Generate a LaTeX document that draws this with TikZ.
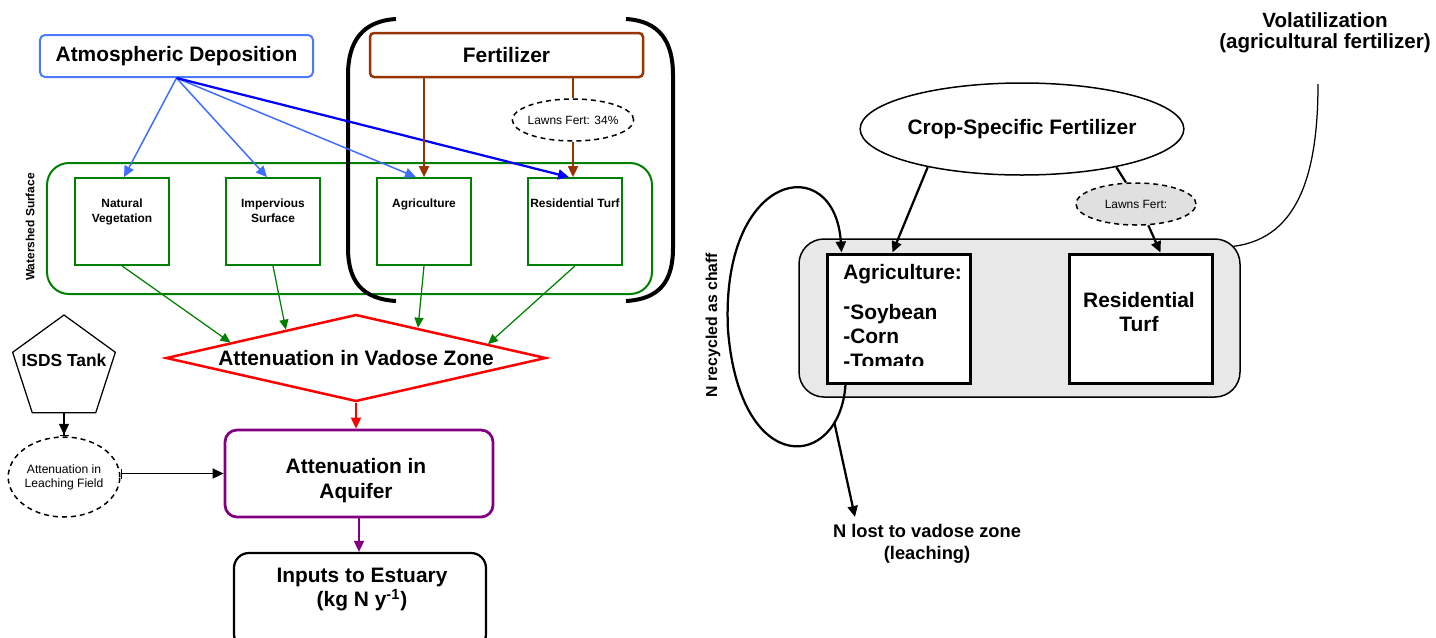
\documentclass[tikz,border=0pt]{standalone}
\usepackage{fontspec}
\setmainfont{Liberation Sans}
\usetikzlibrary{arrows.meta,shapes.geometric,calc}

\definecolor{atmblue}{RGB}{77,121,255}
\definecolor{atmline}{RGB}{64,110,255}
\definecolor{deepblue}{RGB}{0,0,255}
\definecolor{fertbrown}{RGB}{153,51,0}
\definecolor{landgreen}{RGB}{0,128,0}
\definecolor{vadosered}{RGB}{255,0,0}
\definecolor{aquipurple}{RGB}{128,0,128}
\definecolor{fieldgray}{RGB}{232,232,232}
\definecolor{lawngray}{RGB}{224,224,224}

\newcommand{\flowfont}{\fontsize{11.9}{14.2}\selectfont\bfseries}
\newcommand{\cellfont}{\fontsize{6.8}{8.5}\selectfont\bfseries}
\newcommand{\notefont}{\fontsize{6.8}{8}\selectfont}

\NewDocumentCommand{\landcell}{mmm}{%
\node[landbox] (#1) at (#2,221.5) {};%
\node[celltext] (#1txt) at (#2,198.5) {#3};%
}

\begin{document}
\begin{tikzpicture}[x=0.2mm,y=-0.2mm,>={Triangle[length=2.2mm,width=2mm]},
    flowtext/.style={font=\flowfont,align=center,inner sep=0pt},
    celltext/.style={font=\cellfont,align=center,inner sep=0pt,anchor=north},
    landbox/.style={draw=landgreen,line width=0.35mm,minimum width=18.8mm,minimum height=17.4mm,inner sep=0pt},
    atmflow/.style={->,draw=atmline,line width=0.3mm},
    fertflow/.style={draw=fertbrown,line width=0.35mm},
    landflow/.style={>={Triangle[length=2mm,width=1.8mm]},->,draw=landgreen,line width=0.25mm},
    blackflow/.style={->,line width=0.45mm},
    dashedoval/.style={ellipse,draw,dash pattern=on 1mm off 0.8mm,line width=0.3mm,inner sep=0pt}]
\useasboundingbox (0,0) rectangle (1436,637);
\clip (0,0) rectangle (1436,637);

% Sources.
\node[draw=atmblue,line width=0.4mm,rounded corners=1mm,minimum width=54.6mm,minimum height=8.4mm,flowtext] (atm) at (176.5,56) {Atmospheric Deposition};
\node[draw=fertbrown,line width=0.5mm,rounded corners=0.8mm,minimum width=54.6mm,minimum height=8.8mm,flowtext] (fert) at (506.5,55) {Fertilizer};
\node[dashedoval,minimum width=24mm,minimum height=8.4mm,inner xsep=-0.5mm,font=\notefont] (lawnsL) at (573,120) {Lawns Fert: 34\%};

% Watershed surface.
\node[draw=landgreen,line width=0.4mm,rounded corners=4.4mm,minimum width=121mm,minimum height=26.2mm] (wshed) at (349.5,228.5) {};
\node[font=\cellfont,rotate=90,inner sep=0pt] (wshedtxt) at (30,227) {Watershed Surface};
\landcell{natveg}{122}{Natural\\Vegetation}
\landcell{imperv}{273}{Impervious\\Surface}
\landcell{agri}{424}{Agriculture}
\landcell{turf}{575}{Residential Turf}

% Bracket round the fertilized land.
\draw[line width=0.8mm] (396,19) .. controls (362,21) and (348,42) .. (348,75) -- (348,248) .. controls (348,281) and (362,299) .. (396,301);
\draw[line width=0.8mm] (626,19) .. controls (660,21) and (673,42) .. (673,75) -- (673,248) .. controls (673,281) and (660,299) .. (626,301);

% Deposition and fertilizer inputs.
\draw[atmflow] (atm.south) -- ($(natveg.north)+(2,0)$);
\draw[atmflow] (atm.south) -- ($(imperv.north)+(-6,0)$);
\draw[atmflow] (atm.south) -- ($(agri.north)+(-8,0)$);
\draw[atmflow,draw=deepblue,line width=0.45mm] (atm.south) -- ($(turf.north)+(-6,0)$);
\draw[fertflow,->] (fert.south -| agri.north) -- (agri.north);
\draw[fertflow] (fert.south -| lawnsL.north) -- (lawnsL.north);
\draw[fertflow,->] (lawnsL.south) -- (lawnsL.south |- turf.north);

% Vadose zone and aquifer.
\node[diamond,draw=vadosered,line width=0.5mm,aspect=4.4,minimum width=76mm,minimum height=17.4mm,flowtext] (vadose) at (356,358) {Attenuation in Vadose Zone};
\node[draw=aquipurple,line width=0.55mm,rounded corners=2.4mm,minimum width=53.6mm,minimum height=17.4mm] (aquifer) at (359,473.5) {};
\node[flowtext] (aquifertxt) at (356,480.5) {Attenuation in\\Aquifer};
\node[draw,line width=0.45mm,rounded corners=3mm,minimum width=50.4mm,minimum height=19.2mm] (inputs) at (360,601) {};
\node[flowtext] (inputstxt) at (362,589.5) {Inputs to Estuary\\(kg N y\textsuperscript{-1})};

\draw[landflow] (natveg.south) -- (vadose.173.3);
\draw[landflow] (imperv.south) -- (vadose.158.2);
\draw[landflow] (agri.south) -- (vadose.26.9);
\draw[landflow] (turf.south) -- (vadose.6.8);
\draw[->,draw=vadosered,line width=0.35mm] (vadose.south) -- (vadose.south |- aquifer.north);
\draw[->,draw=aquipurple,line width=0.35mm] (aquifer.south) -- (aquifer.south |- inputs.north);

% Septic system.
\node[regular polygon,regular polygon sides=5,draw,line width=0.25mm,minimum size=21.6mm,inner sep=0pt] (isds) at (64,369) {};
\node[font=\fontsize{9.9}{12}\selectfont\bfseries,inner sep=0pt] (isdstxt) at (64,360) {ISDS Tank};
\node[dashedoval,minimum width=21.8mm,minimum height=16mm,align=center,font=\fontsize{6.9}{8}\selectfont] (leach) at (64,477) {Attenuation in\\Leaching Field};
\draw[-{Triangle[length=2.2mm,width=2mm] Bar[width=1.8mm]},line width=0.3mm] (isds.south) -- (leach.north);
\draw[{Bar[width=2mm]}-{Triangle[length=2.2mm,width=2mm]},line width=0.3mm] (leach.east |- aquifer.west) -- (aquifer.west);

% Field detail.
\node[ellipse,draw,line width=0.3mm,minimum width=64.4mm,minimum height=18.4mm,flowtext] (crop) at (1022,129) {Crop-Specific Fertilizer};
\node[dashedoval,fill=lawngray,minimum width=24mm,minimum height=8.4mm,font=\notefont] (lawnsR) at (1136,204) {Lawns Fert:};
\node[draw,fill=fieldgray,line width=0.3mm,rounded corners=5mm,minimum width=88.2mm,minimum height=31.6mm] (field) at (1019.5,318) {};
\node[draw,fill=white,line width=0.6mm,minimum width=28.6mm,minimum height=25.8mm] (crops) at (898.5,318.5) {};
\node[draw,fill=white,line width=0.6mm,minimum width=28.6mm,minimum height=25.8mm] (lawn) at (1140.5,318.5) {};
\node[flowtext,font=\fontsize{11.9}{13.7}\selectfont\bfseries] (lawntxt) at (1139,312) {Residential\\Turf};
\begin{scope}
    \clip (crops.north west) rectangle ($(crops.south east)+(0,-19)$);
    \node[flowtext,anchor=base west] (cropshead) at (843,279.5) {Agriculture:};
    \node[flowtext,anchor=base west] (soy) at (843,319.5) {\raisebox{0.3em}{-}Soybean};
    \node[flowtext,anchor=base west] (corn) at (843,343.5) {-Corn};
    \node[flowtext,anchor=base west] (tomato) at (843,368.5) {-Tomato};
\end{scope}

\draw[blackflow] (crop.202.3) -- ($(crops.north)+(-6,0)$);
\draw[line width=0.45mm] (crop.338.1) -- (lawnsR.115);
\draw[blackflow] (lawnsR.-60) -- ($(lawn.north)+(20,0)$);

% Volatilization.
\node[font=\fontsize{11.7}{12}\selectfont\bfseries,align=center,inner sep=0pt] (volat) at (1325,33) {Volatilization\\(agricultural fertilizer)};
\coordinate (volend) at (1318,84);
\draw[line width=0.25mm] ($(field.north east)+(-7,8)$) .. controls (1300,238) and (1318,170) .. (volend);

% Chaff loop and leaching loss.
\coordinate (lossto) at (855,517);
\draw[blackflow] ($(crops.south west)+(20,0)$) .. controls (840,470) and (740,480) .. (728,330) coordinate[pos=0.18] (lossfrom)
    .. controls (720,170) and (835,150) .. ($(crops.north west)+(16,0)$);
\draw[blackflow] (lossfrom) -- (lossto);
\node[font=\fontsize{10.4}{12.5}\selectfont\bfseries,align=center,inner sep=0pt] (nlost) at (927,544) {N lost to vadose zone\\(leaching)};
\node[font=\fontsize{9}{11}\selectfont\bfseries,rotate=90,inner sep=0pt] (chaff) at (713,325) {N recycled as chaff};
\end{tikzpicture}
\end{document}
